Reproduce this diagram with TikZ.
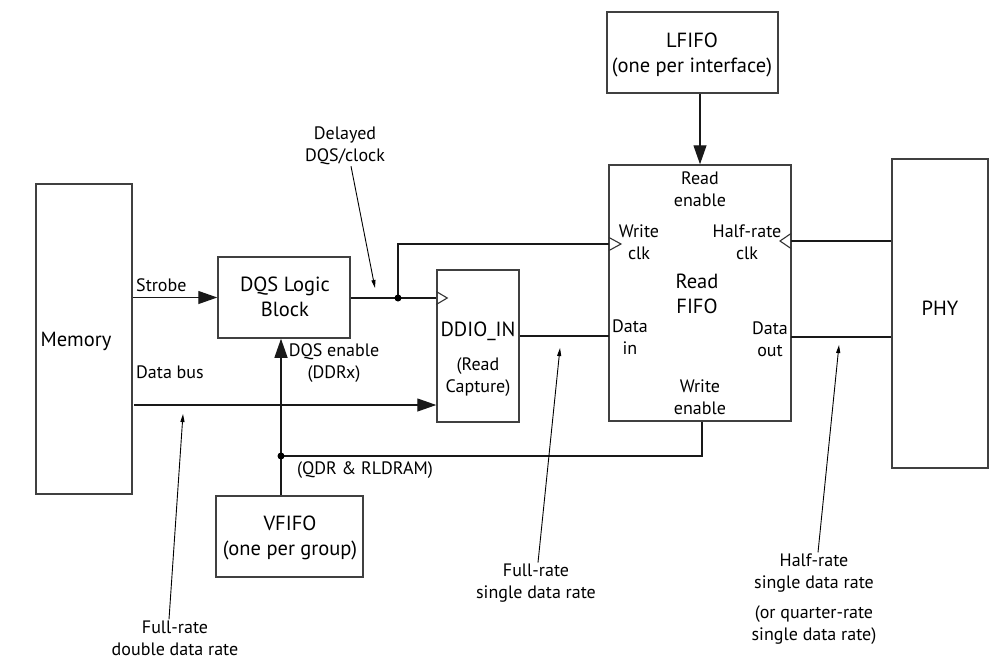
\documentclass[tikz,border=0pt]{standalone}
\usepackage{fontspec}
\setmainfont{PT Sans}
\usetikzlibrary{positioning}
\usetikzlibrary{calc}
\usetikzlibrary{arrows.meta}

\tikzset{
    blk/.style={draw=black!75, line width=1.5pt, inner sep=0pt},
    boxtxt/.style={font=\fontsize{20.5}{25.5}\selectfont, align=center, inner sep=1pt},
    lbl/.style={font=\fontsize{18}{22}\selectfont, align=center, inner sep=1pt},
    wire/.style={line width=1.3pt, draw=black!90},
    arr/.style={wire, -{Triangle[length=19pt,width=13pt]}},
    ptr/.style={line width=0.9pt, -{Triangle[length=8pt,width=4pt]}},
    clktri/.style={line width=1.1pt, draw=black!80},
    dot/.style={circle, fill=black, inner sep=0pt, minimum size=7pt}
}

\begin{document}
\begin{tikzpicture}[x=1pt, y=-1pt]
    \useasboundingbox (0,0) rectangle (1005,670);

    % blocks
    \node[blk, minimum width=96pt, minimum height=310pt] (mem) at (84,339) {};
    \node[blk, minimum width=132pt, minimum height=81pt] (dqs) at (284,297.5) {};
    \node[blk, minimum width=82pt, minimum height=152pt] (ddio) at (478,346) {};
    \node[blk, minimum width=182pt, minimum height=256pt] (rfifo) at (700,293) {};
    \node[blk, minimum width=96pt, minimum height=309pt] (phy) at (940,313.5) {};
    \node[blk, minimum width=171pt, minimum height=81pt] (lfifo) at (692.5,52.5) {};
    \node[blk, minimum width=147pt, minimum height=81pt] (vfifo) at (289.5,536.5) {};

    % block texts
    \node[boxtxt] (memtxt) at (76,341) {Memory};
    \node[boxtxt] (dqstxt) at (285,297) {DQS Logic\\Block};
    \node[boxtxt] (ddiotxt) at (478,331) {DDIO\_IN};
    \node[lbl] (captxt) at (478,377) {(Read\\Capture)};
    \node[boxtxt] (rftxt) at (697,294) {Read\\FIFO};
    \node[boxtxt] (phytxt) at (940,308) {PHY};
    \node[boxtxt] (lftxt) at (692,55) {LFIFO\\(one per interface)};
    \node[boxtxt] (vftxt) at (290,538) {VFIFO\\(one per group)};

    % read fifo ports
    \node[lbl] (rentxt) at (700,189) {Read\\enable};
    \node[lbl] (wclktxt) at (639,242) {Write\\clk};
    \node[lbl] (hclktxt) at (747,242) {Half-rate\\clk};
    \node[lbl] (dintxt) at (630,337) {Data\\in};
    \node[lbl] (douttxt) at (770,339) {Data\\out};
    \node[lbl] (wentxt) at (700,397) {Write\\enable};

    \coordinate (wclk) at (609,244);
    \coordinate (hclk) at (791,241);
    \coordinate (din) at (609,336);
    \coordinate (dout) at (791,337);
    \coordinate (split) at (398,298);
    \coordinate (vsplit) at (281,456);
    \coordinate (busin) at (134,405);

    % clock inputs
    \draw[clktri] (ddio.west |- split) ++(0,-6.5) -- ++(11,6.5) -- ++(-11,6.5);
    \draw[clktri] (wclk) ++(0,-6.5) -- ++(12,6.5) -- ++(-12,6.5);
    \draw[clktri] (hclk) ++(0,-7.5) -- ++(-11,7.5) -- ++(11,7.5);

    % strobe and delayed clock
    \draw[arr] (mem.east |- dqs.west) -- (dqs.west);
    \node[lbl, anchor=base west] (strobe) at (135,291) {Strobe};
    \draw[wire] (dqs.east |- split) -- (ddio.west |- split);
    \draw[wire] (split) |- (wclk);
    \node[dot] (splitdot) at (split) {};

    % data path
    \draw[arr] (busin) -- (ddio.west |- busin);
    \node[lbl, anchor=base west] (busl) at (135,378) {Data bus};
    \draw[wire] (ddio.east |- din) -- (din);
    \draw[wire] (dout) -- (phy.west |- dout);
    \draw[wire] (phy.west |- hclk) -- (hclk);
    \draw[arr] (lfifo.south -| rfifo.north) -- (rfifo.north);

    % enables
    \draw[wire] (rfifo.south -| 702,0) |- (vsplit);
    \draw[wire] (vfifo.north -| vsplit) -- (vsplit);
    \draw[arr] (vsplit) -- (dqs.south -| vsplit);
    \node[dot] (vdot) at (vsplit) {};
    \node[lbl] (dqsen) at (334,363) {DQS enable\\(DDRx)};
    \node[lbl] (qdr) at (365,470) {(QDR \& RLDRAM)};

    % rate annotations
    \coordinate (dlytip) at (375,288);
    \coordinate (ddrtip) at (183,414);
    \coordinate (fsdtip) at (560,348);
    \coordinate (hsdtip) at (839,345);
    \node[lbl] (dly) at (345,146) {Delayed\\DQS/clock};
    \node[lbl] (fdd) at (175,638) {Full-rate\\double data rate};
    \node[lbl] (fsd) at (536,583) {Full-rate\\single data rate};
    \node[lbl] (hsd) at (814,599) {Half-rate\\single data rate\\[8pt](or quarter-rate\\single data rate)};
    \draw[ptr] ($(dly.south)+(6,0)$) -- (dlytip);
    \draw[ptr] ($(fdd.north)+(-6,0)$) -- (ddrtip);
    \draw[ptr] ($(fsd.north)+(2,0)$) -- (fsdtip);
    \draw[ptr] ($(hsd.north)+(4,0)$) -- (hsdtip);
\end{tikzpicture}
\end{document}
